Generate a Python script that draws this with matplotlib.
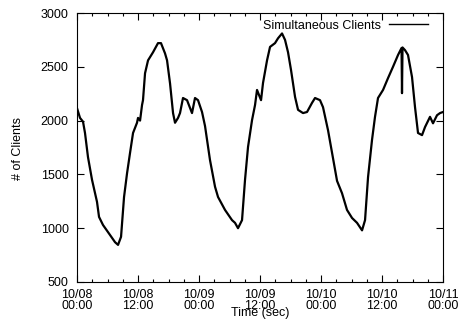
import matplotlib.pyplot as plt

plt.rcParams['font.family'] = ['Liberation Sans', 'DejaVu Sans']

# hours since 10/08 00:00 and number of simultaneous clients
hours = [0.0, 0.59, 1.18, 1.57, 2.16, 2.95, 3.93, 4.33, 5.11, 6.49, 7.48, 8.07, 8.66,
         9.25, 9.84, 10.43, 11.02, 11.80, 12.0, 12.4, 12.79, 12.98, 13.38, 13.97,
         14.95, 15.93, 16.52, 17.31, 17.71, 18.30, 18.89, 19.28, 19.87, 20.26,
         20.85, 21.64, 22.62, 23.21, 23.80, 24.59, 25.18, 26.16, 27.15, 27.74,
         29.11, 30.49, 31.08, 31.67, 32.46, 33.05, 33.64, 34.43, 35.02, 35.41,
         36.20, 36.59, 37.38, 37.97, 38.95, 39.54, 40.33, 40.92, 41.51, 42.10,
         42.89, 43.48, 44.46, 45.25, 46.23, 46.82, 47.80, 48.39, 49.38, 50.36,
         51.15, 52.13, 53.11, 54.10, 55.08, 56.07, 56.66, 57.25, 58.03, 58.62,
         59.21, 60.20, 61.18, 62.16, 63.15, 63.84, 63.93, 64.03, 64.52, 65.11,
         65.90, 66.49, 67.08, 67.87, 68.46, 69.44, 70.03, 70.82, 71.41, 72.0]
clients = [2115, 2025, 1990, 1885, 1660, 1450, 1245, 1105, 1030, 937, 870, 845, 920,
           1290, 1510, 1700, 1885, 1980, 2025, 2000, 2145, 2190, 2440, 2560,
           2635, 2720, 2720, 2625, 2560, 2345, 2070, 1980, 2025, 2070,
           2210, 2190, 2070, 2210, 2190, 2080, 1950, 1633, 1385, 1290,
           1170, 1075, 1050, 1000, 1075, 1450, 1755, 2005, 2145, 2285,
           2190, 2350, 2560, 2685, 2720, 2765, 2810, 2750, 2635, 2470,
           2220, 2100, 2070, 2080, 2165, 2210, 2190, 2125, 1910, 1650,
           1440, 1325, 1170, 1095, 1050, 980, 1075, 1475, 1820, 2035,
           2210, 2285, 2395, 2500, 2610, 2675, 2255, 2680, 2655, 2610,
           2405, 2125, 1885, 1865, 1940, 2035, 1975, 2050, 2070, 2080]

xticks = [0, 12, 24, 36, 48, 60, 72]
xlabels = ['10/08\n00:00', '10/08\n12:00', '10/09\n00:00', '10/09\n12:00',
           '10/10\n00:00', '10/10\n12:00', '10/11\n00:00']
yticks = [500, 1000, 1500, 2000, 2500, 3000]

fig = plt.figure(figsize=(4.59, 3.2), dpi=100)
ax = fig.add_axes([0.1678, 0.11875, 0.7974, 0.8406])

ax.plot(hours, clients, color='black', lw=1.6, label='Simultaneous Clients')
ax.axis([0, 72, 500, 3000])

ax.set_xticks(xticks)
ax.set_xticklabels(xlabels, linespacing=0.95)
ax.set_xticks(range(0, 73, 3), minor=True)
ax.set_yticks(yticks)
ax.tick_params(which='both', direction='in', top=True, right=True,
               labelsize=9, width=0.8)
ax.tick_params(axis='x', pad=5)
ax.tick_params(axis='y', pad=6)
ax.tick_params(which='major', length=5)
ax.tick_params(which='minor', length=2.5)
for s in ax.spines.values():
    s.set_linewidth(0.8)

fig.text(0.039, 0.5375, '# of Clients', rotation=90, ha='center', va='center', fontsize=9)
fig.text(0.567, 0.022, 'Time (sec)', ha='center', va='center', fontsize=9)

ax.legend(loc='upper right', bbox_to_anchor=(0.959, 0.975), frameon=False,
          markerfirst=False, handlelength=3.1, handletextpad=0.64,
          fontsize=9, borderaxespad=0, borderpad=0)
for ln in ax.get_legend().get_lines():
    ln.set_linewidth(1.0)

fig.savefig('out.png', dpi=100)
